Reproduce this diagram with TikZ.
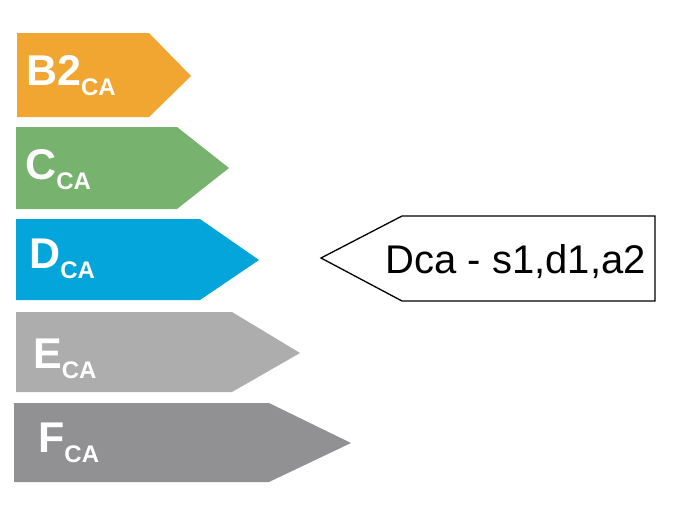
\documentclass[tikz,border=0pt]{standalone}
\usepackage{fontspec}
\setmainfont{Liberation Sans}
\definecolor{cB}{HTML}{F0A630}
\definecolor{cC}{HTML}{77B36E}
\definecolor{cD}{HTML}{03A5DA}
\definecolor{cE}{HTML}{ADADAD}
\definecolor{cF}{HTML}{919193}
\newcommand{\clabel}[1]{{\fontsize{43}{43}\selectfont\bfseries #1\raisebox{-10pt}{\fontsize{24}{24}\selectfont CA}}}
\begin{document}
\begin{tikzpicture}[x=1pt,y=-1pt,
  cls/.style={anchor=base west,inner sep=0pt,text=white,font=\bfseries},
  tag/.style={draw=black,line width=1.3pt,fill=white,line join=miter}]
\useasboundingbox (0,0) rectangle (684,504);
% class arrows
\fill[cB] (17,33) -- (149,33) -- (191,76) -- (149,117) -- (17,117) -- cycle;
\fill[cC] (16,127) -- (177,127) -- (229,168) -- (177,209) -- (16,209) -- cycle;
\fill[cD] (16,219) -- (200,219) -- (259,260) -- (200,300) -- (16,300) -- cycle;
\fill[cE] (16,312) -- (232,312) -- (300,353) -- (232,392) -- (16,392) -- cycle;
\fill[cF] (14,403) -- (269,403) -- (351,443) -- (269,482) -- (14,482) -- cycle;
\node[cls] (b2) at (26,85) {\clabel{B2}};
\node[cls] (c) at (25,179) {\clabel{C}};
\node[cls] (d) at (29,268) {\clabel{D}};
\node[cls] (e) at (33,368) {\clabel{E}};
\node[cls] (f) at (38,452) {\clabel{F}};
% result tag
\draw[tag] (321,258) -- (402,216) -- (655,216) -- (655,301) -- (402,301) -- cycle;
\node[anchor=base east,inner sep=0pt,font=\fontsize{40}{40}\selectfont] (res) at (646,273) {Dca - s1,d1,a2};
\end{tikzpicture}
\end{document}
